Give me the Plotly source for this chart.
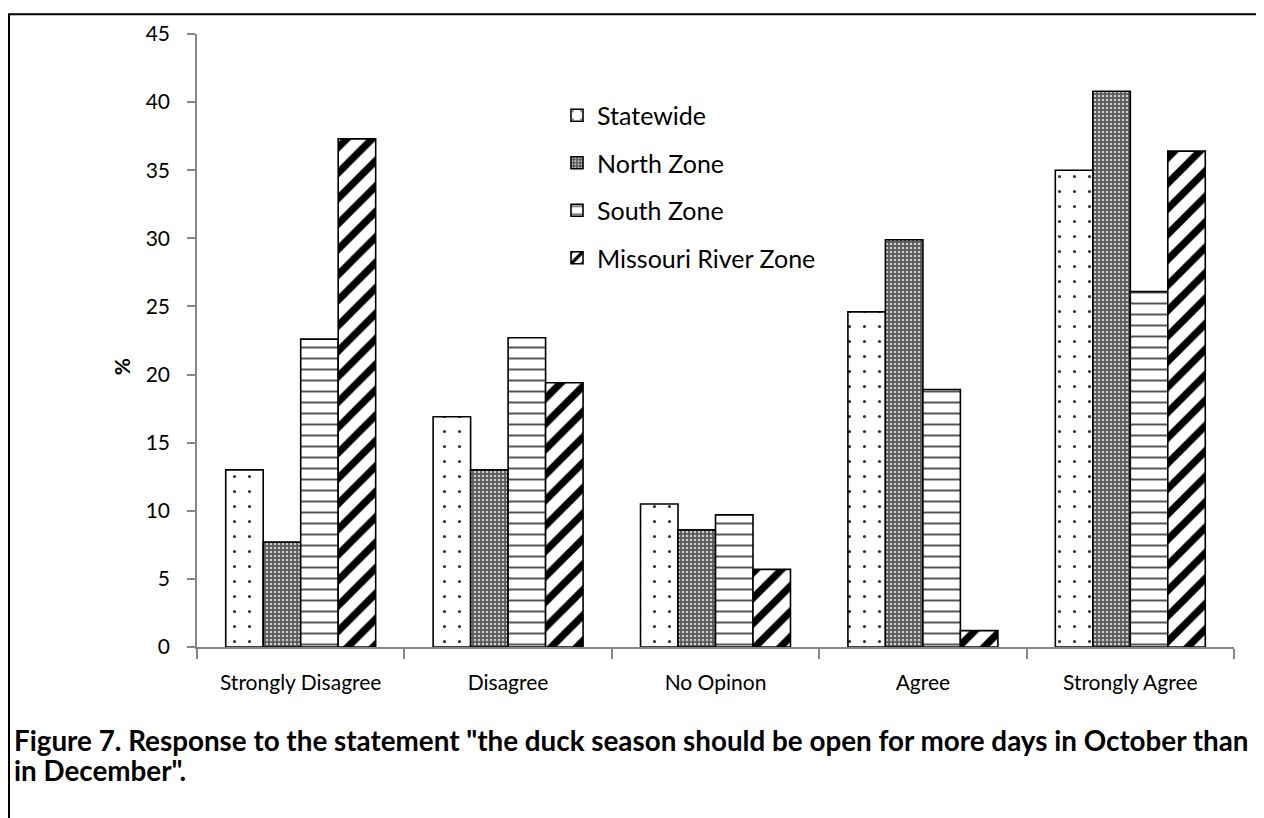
import plotly.graph_objects as go

categories = ["Strongly Disagree", "Disagree", "No Opinon", "Agree", "Strongly Agree"]
statewide = [13.0, 16.9, 10.5, 24.6, 35.0]
north_zone = [7.7, 13.0, 8.6, 29.9, 40.8]
south_zone = [22.6, 22.7, 9.7, 18.9, 26.1]
missouri_zone = [37.3, 19.4, 5.7, 1.2, 36.4]
series_names = ["Statewide", "North Zone", "South Zone", "Missouri River Zone"]
y_ticks = [0, 5, 10, 15, 20, 25, 30, 35, 40, 45]
title_line1 = 'Figure 7. Response to the statement "the duck season should be open for more days in October than'
title_line2 = 'in December".'

# page body has an 8px margin, so the figure is 8px smaller and offset
OFF = 8
W, H = 1256, 810
L, R, T, B = 189, 30, 21, 171
PW = W - L - R
PH = H - T - B


def px(xpage):
    return (xpage - OFF - L) / PW


def py(ypage):
    return (H - B - (ypage - OFF)) / PH


FONT = "Lato"

patterns = [
    dict(shape=".", bgcolor="white", fgcolor="#333333", size=15, solidity=0.035, fillmode="replace"),
    dict(shape=".", bgcolor="#5a5a5a", fgcolor="#cfcfcf", size=4, solidity=0.3, fillmode="replace"),
    dict(shape="-", bgcolor="white", fgcolor="#555555", size=11, solidity=0.18, fillmode="replace"),
    dict(shape="/", bgcolor="white", fgcolor="black", size=18, solidity=0.4, fillmode="replace"),
]

fig = go.Figure()
for name, vals, pat in zip(series_names, [statewide, north_zone, south_zone, missouri_zone], patterns):
    fig.add_trace(go.Bar(
        x=categories, y=vals, name=name, legendgroup=name,
        marker=dict(color="white", line=dict(color="black", width=1.6), pattern=pat),
    ))

fig.update_layout(
    width=W, height=H,
    margin=dict(l=L, r=R, t=T, b=B, pad=0),
    paper_bgcolor="white", plot_bgcolor="white",
    barmode="group", bargap=0.277, bargroupgap=0,
    font=dict(family=FONT, size=21, color="black"),
    showlegend=True,
    legend=dict(
        x=px(557), y=py(88), xanchor="left", yanchor="top",
        bgcolor="rgba(0,0,0,0)", font=dict(size=25, family=FONT),
        traceorder="grouped", tracegroupgap=12, itemwidth=30,
    ),
    xaxis=dict(
        type="category", showline=True, linecolor="#868686", linewidth=1.5,
        ticks="outside", tickson="boundaries", ticklen=10, tickcolor="#868686", tickwidth=1.5,
        showgrid=False, zeroline=False, ticklabelstandoff=16,
        tickfont=dict(size=21, family=FONT),
    ),
    yaxis=dict(
        range=[0, 45], tickvals=y_ticks, showline=True, linecolor="#868686", linewidth=1.5,
        ticks="outside", ticklen=8, tickcolor="#868686", tickwidth=1.5,
        showgrid=False, zeroline=False, ticklabelstandoff=13,
        tickfont=dict(size=21, family=FONT),
    ),
    shapes=[dict(
        type="rect", xref="paper", yref="paper",
        x0=px(OFF + 1), x1=px(1261), y0=py(840), y1=py(OFF + 1),
        line=dict(color="black", width=2), fillcolor="rgba(0,0,0,0)", layer="below",
    )],
    annotations=[
        dict(text="<b>%</b>", xref="paper", yref="paper", x=px(121), y=py(365),
             xanchor="center", yanchor="middle", textangle=-90, showarrow=False,
             font=dict(size=21, family=FONT, color="black")),
        dict(text="<b>" + title_line1 + "</b>", xref="paper", yref="paper",
             x=px(12), y=py(741), xanchor="left", yanchor="middle", showarrow=False,
             font=dict(size=27.8, family=FONT, color="black")),
        dict(text="<b>" + title_line2 + "</b>", xref="paper", yref="paper",
             x=px(12), y=py(772), xanchor="left", yanchor="middle", showarrow=False,
             font=dict(size=27.8, family=FONT, color="black")),
    ],
)

fig.write_html("out.html")
